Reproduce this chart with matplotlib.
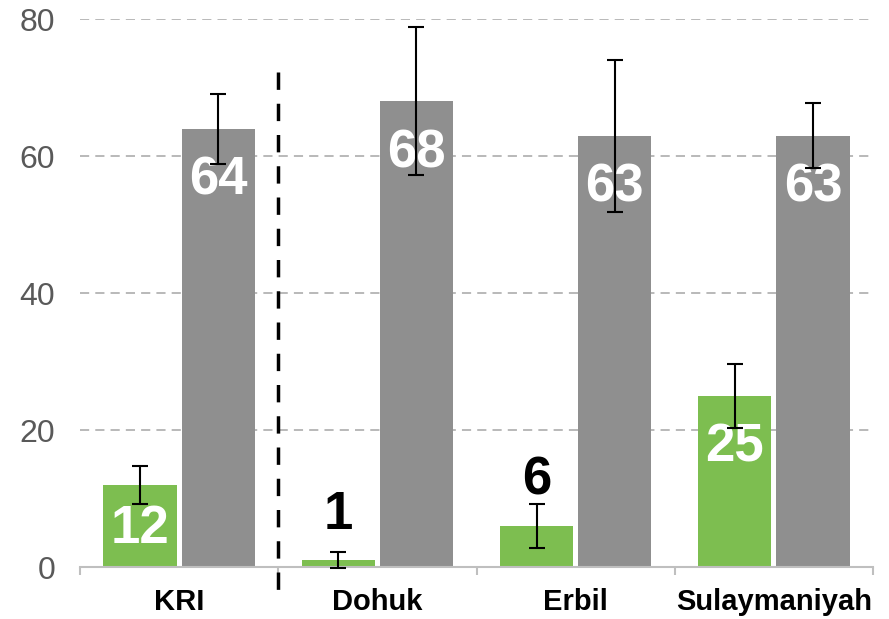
import numpy as np
import matplotlib.pyplot as plt

plt.rcParams['font.family'] = ['Liberation Sans', 'DejaVu Sans']

regions = ['KRI', 'Dohuk', 'Erbil', 'Sulaymaniyah']
green_vals = [12, 1, 6, 25]
green_err = [2.8, 1.2, 3.2, 4.7]
gray_vals = [64, 68, 63, 63]
gray_err = [5.1, 10.8, 11.1, 4.7]
yticks = [0, 20, 40, 60, 80]

green = '#7DBE50'
gray = '#8F8F8F'

fig = plt.figure(figsize=(8.89, 6.19), dpi=100)
ax = fig.add_axes([0.09, 0.084, 0.892, 0.885])

x = np.arange(len(regions))
w = 0.37
off = 0.197

ax.bar(x - off, green_vals, w, color=green, zorder=2)
ax.bar(x + off, gray_vals, w, color=gray, zorder=2)
ax.errorbar(x - off, green_vals, yerr=green_err, fmt='none', ecolor='black',
            elinewidth=1.5, capsize=6, capthick=1.5, zorder=4, clip_on=False)
ax.errorbar(x + off, gray_vals, yerr=gray_err, fmt='none', ecolor='black',
            elinewidth=1.5, capsize=6, capthick=1.5, zorder=4, clip_on=False)

# value labels: white inside tall bars, black above short ones
for xs, vals in [(x - off, green_vals), (x + off, gray_vals)]:
    for xi, v in zip(xs, vals):
        if v > 10:
            ax.text(xi, v - min(7.6, v / 2 + 0.5), str(v), ha='center', va='center',
                    color='white', fontsize=38, fontweight='bold', zorder=3)
        else:
            ax.text(xi, v + 6.6, str(v), ha='center', va='center',
                    color='black', fontsize=38, fontweight='bold', zorder=3)

ax.set_ylim(0, 80)
ax.set_xlim(-0.5, len(regions) - 0.5)
ax.set_yticks(yticks)
ax.yaxis.grid(True, color='#A6A6A6', linestyle=(0, (6, 4)), linewidth=1.1, zorder=0)
ax.set_axisbelow(True)
ax.tick_params(axis='y', length=0, pad=18, labelsize=23, labelcolor='#595959')

ax.set_xticks(x)
ax.set_xticklabels(regions, fontsize=21, fontweight='bold')
ax.set_xticks(np.arange(len(regions) + 1) - 0.5, minor=True)
ax.tick_params(axis='x', which='major', length=0, pad=15)
ax.tick_params(axis='x', which='minor', length=6, width=1.5, color='#BFBFBF', direction='out')

for s in ['top', 'right', 'left']:
    ax.spines[s].set_visible(False)
ax.spines['bottom'].set_color('#BFBFBF')
ax.spines['bottom'].set_linewidth(1.5)

# separator between KRI and governorates
ax.plot([0.5, 0.5], [72.3, -3.6], color='black', linewidth=2.5,
        linestyle=(0, (5, 4)), clip_on=False, zorder=5)

fig.savefig('out.png', dpi=100)
